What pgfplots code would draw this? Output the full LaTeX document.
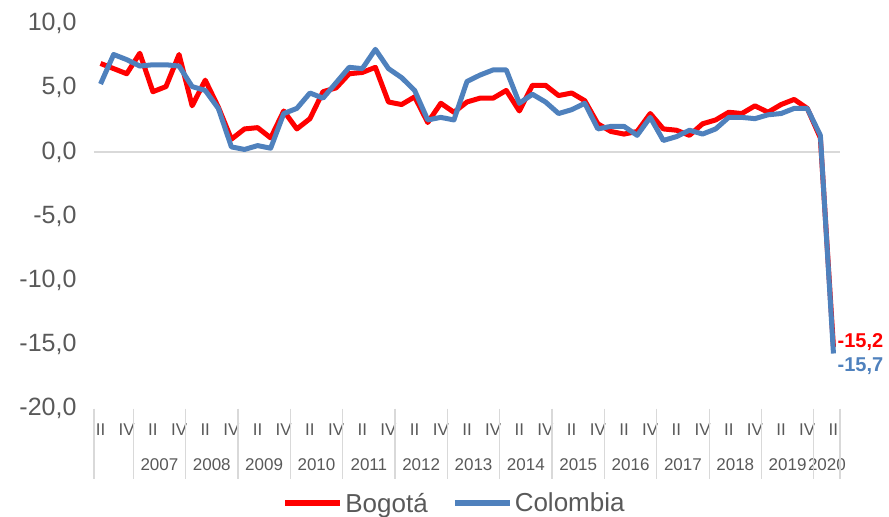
\documentclass[border=0pt]{standalone}
\usepackage{fontspec}
\setmainfont{Liberation Sans}
\usepackage{pgfplots}
\pgfplotsset{compat=1.18}
\definecolor{bred}{HTML}{FF0000}
\definecolor{cblue}{HTML}{4F81BD}
\definecolor{tickgray}{HTML}{595959}
\definecolor{linegray}{HTML}{D9D9D9}
\begin{document}
\begin{tikzpicture}
\useasboundingbox (-94pt,-107.4pt) rectangle (795pt,408.7pt);
\begin{axis}[
  scale only axis,
  width=746pt, height=385pt,
  xmin=-0.5, xmax=56.5,
  ymin=-20, ymax=10,
  clip=false,
  axis line style={draw=none},
  major tick length=0pt,
  ytick={-20,-15,-10,-5,0,5,10},
  /pgf/number format/.cd, fixed, fixed zerofill, precision=1, use comma, assume math mode=true,
  /pgfplots/.cd,
  yticklabel style={font=\fontsize{25}{25}\selectfont, text=tickgray, xshift=-14pt},
  xtick={0,2,...,56},
  xticklabels={II,IV,II,IV,II,IV,II,IV,II,IV,II,IV,II,IV,II,IV,II,IV,II,IV,II,IV,II,IV,II,IV,II,IV,II},
  xticklabel style={font=\fontsize{17}{17}\selectfont, text=tickgray, yshift=-12pt},
  extra x ticks={4.5,8.5,12.5,16.5,20.5,24.5,28.5,32.5,36.5,40.5,44.5,48.5,52.5,55.5},
  extra x tick labels={2007,2008,2009,2010,2011,2012,2013,2014,2015,2016,2017,2018,2019,2020},
  extra x tick style={major tick length=0pt, tick label style={yshift=-34pt}},
  legend columns=2,
  legend style={at={(0.4832,-0.2457)}, anchor=center, draw=none, fill=none,
    font=\fontsize{26}{26}\selectfont, text=tickgray,
    /tikz/every even column/.append style={column sep=22pt}},
  legend image code/.code={\draw[#1, line width=6pt] (0pt,0pt) -- (55pt,0pt);},
  every axis plot/.append style={line width=5pt, line join=round, mark=none},
]
\draw[linegray, line width=1.2pt] (axis cs:-0.5,0) -- (axis cs:56.5,0);
\pgfplotsinvokeforeach{-0.5,2.5,6.5,10.5,14.5,18.5,22.5,26.5,30.5,34.5,38.5,42.5,46.5,50.5,54.5,56.5}{
  \draw[linegray, line width=1.2pt] (axis cs:#1,-20) -- ++(0pt,-70pt);
}
\addplot[bred] coordinates {
(0,6.9) (1,6.5) (2,6.1) (3,7.7) (4,4.7) (5,5.1) (6,7.6) (7,3.6) (8,5.6) (9,3.5)
(10,1.0) (11,1.8) (12,1.9) (13,1.1) (14,3.2) (15,1.8) (16,2.6) (17,4.7) (18,5.0) (19,6.1)
(20,6.2) (21,6.6) (22,3.9) (23,3.7) (24,4.3) (25,2.3) (26,3.8) (27,3.1) (28,3.9) (29,4.2)
(30,4.2) (31,4.8) (32,3.2) (33,5.2) (34,5.2) (35,4.4) (36,4.6) (37,4.0) (38,2.2) (39,1.6)
(40,1.4) (41,1.6) (42,3.0) (43,1.8) (44,1.7) (45,1.3) (46,2.2) (47,2.5) (48,3.1) (49,3.0)
(50,3.6) (51,3.1) (52,3.7) (53,4.1) (54,3.4) (55,1.1) (56,-15.2)
};
\addlegendentry{Bogotá}
\addplot[cblue] coordinates {
(0,5.3) (1,7.6) (2,7.2) (3,6.7) (4,6.8) (5,6.8) (6,6.7) (7,5.1) (8,4.8) (9,3.4)
(10,0.4) (11,0.2) (12,0.5) (13,0.3) (14,3.0) (15,3.4) (16,4.6) (17,4.2) (18,5.4) (19,6.6)
(20,6.5) (21,8.0) (22,6.5) (23,5.8) (24,4.8) (25,2.5) (26,2.7) (27,2.5) (28,5.5) (29,6.0)
(30,6.4) (31,6.4) (32,3.8) (33,4.5) (34,3.9) (35,3.0) (36,3.3) (37,3.8) (38,1.8) (39,2.0)
(40,2.0) (41,1.3) (42,2.7) (43,0.9) (44,1.2) (45,1.7) (46,1.4) (47,1.8) (48,2.7) (49,2.7)
(50,2.6) (51,2.9) (52,3.0) (53,3.4) (54,3.4) (55,1.3) (56,-15.7)
};
\addlegendentry{Colombia}
\node[anchor=west, inner sep=0pt, text=bred, font=\fontsize{20}{20}\selectfont\bfseries] at (axis cs:56,-15.2) [xshift=4pt, yshift=5pt] {-15,2};
\node[anchor=west, inner sep=0pt, text=cblue, font=\fontsize{20}{20}\selectfont\bfseries] at (axis cs:56,-15.7) [xshift=4pt, yshift=-13pt] {-15,7};
\end{axis}
\end{tikzpicture}
\end{document}
